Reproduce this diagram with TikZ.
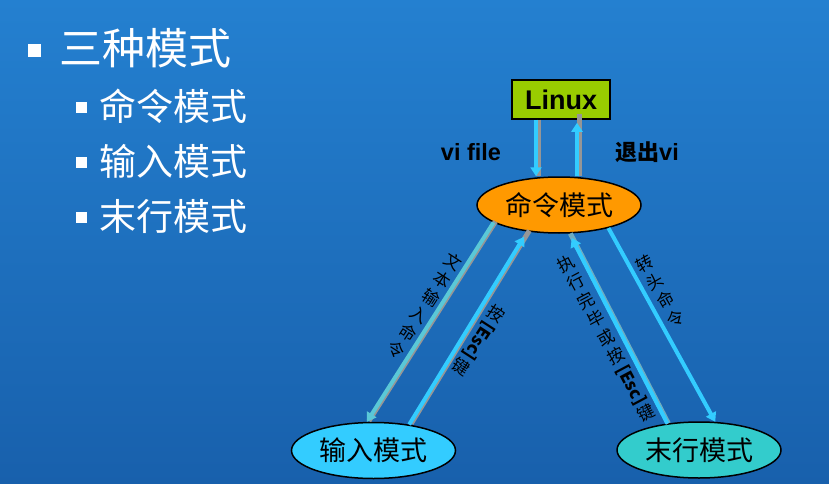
\documentclass[tikz,border=0pt]{standalone}
\usepackage{fontspec}
\usepackage{graphicx}
\setmainfont{Liberation Sans}
\newfontfamily\cjk{Noto Sans CJK SC}
\usetikzlibrary{shapes.geometric,arrows.meta,calc}
\definecolor{bgtop}{RGB}{36,128,208}
\definecolor{bgbot}{RGB}{24,96,172}
\definecolor{linuxgreen}{RGB}{153,204,0}
\definecolor{cmdorange}{RGB}{255,153,0}
\definecolor{inpcyan}{RGB}{51,204,255}
\definecolor{lastteal}{RGB}{51,204,204}
\definecolor{arrcyan}{RGB}{51,204,255}
\definecolor{arrteal}{RGB}{90,200,215}
\definecolor{shadowgray}{RGB}{150,150,150}
\tikzset{
  modebox/.style={ellipse,draw=black,line width=1.5pt,minimum width=164pt,minimum height=56pt,inner sep=0pt,font=\cjk\fontsize{27}{27}\selectfont},
  linuxbox/.style={rectangle,draw=black,line width=1.5pt,fill=linuxgreen,minimum width=98pt,minimum height=39pt,inner sep=0pt,font=\bfseries\fontsize{27}{27}\selectfont},
  shade line/.style={draw=shadowgray,line width=5pt},
  flow/.style={draw=arrcyan,line width=4pt,-{Triangle[width=11pt,length=9pt]}},
  vlabel/.style={align=center,inner sep=0pt,font=\cjk\fontsize{17}{21}\selectfont},
  toplabel/.style={inner sep=0pt,font=\bfseries\fontsize{23.5}{24}\selectfont},
  bigitem/.style={anchor=west,inner sep=0pt,text=white,font=\cjk\fontsize{43}{43}\selectfont},
  subitem/.style={anchor=west,inner sep=0pt,text=white,font=\cjk\fontsize{37}{37}\selectfont},
  bulletsq/.style={fill=white,inner sep=0pt,minimum size=#1}
}
\newcommand{\escbox}{\rotatebox[origin=c]{-90}{\bfseries\fontsize{17}{17}\selectfont[Esc]}}
\begin{document}
\begin{tikzpicture}[x=1pt,y=-1pt]
\useasboundingbox (0,0) rectangle (829,484);
\shade[top color=bgtop,bottom color=bgbot] (0,0) rectangle (829,484);
% bullets
\node[bulletsq=13pt] (b0) at (34,51) {};
\node[bigitem] (t0) at (59,48) {三种模式};
\node[bulletsq=11pt] (b1) at (81,108) {};
\node[subitem] (t1) at (99,106) {命令模式};
\node[bulletsq=11pt] (b2) at (81,162) {};
\node[subitem] (t2) at (99,161) {输入模式};
\node[bulletsq=11pt] (b3) at (81,217) {};
\node[subitem] (t3) at (99,216) {末行模式};
% nodes
\node[linuxbox] (linux) at (561,99.5) {Linux};
\node[modebox,fill=cmdorange] (cmd) at (559,205) {命令模式};
\node[modebox,fill=inpcyan] (inp) at (373.5,450.5) {输入模式};
\node[modebox,fill=lastteal] (last) at (699,450) {末行模式};
% Linux <-> cmd
\coordinate (d0) at ([xshift=-25pt]linux.south);
\coordinate (u0) at ([xshift=16pt]linux.south);
\draw[shade line] ([xshift=2pt]d0) -- ([xshift=2pt]d0 |- cmd.north);
\draw[flow] (d0) -- (d0 |- cmd.north);
\draw[shade line] ([xshift=2pt]u0 |- cmd.north) -- ([xshift=2pt,yshift=6pt]u0);
\draw[flow,shorten >=3pt] (u0 |- cmd.north) -- (u0);
% cmd -> inp
\draw[shade line] ([xshift=2pt,yshift=1pt]cmd.195) -- ([xshift=2pt,yshift=1pt]inp.103);
\draw[flow,draw=arrteal] (cmd.195) -- (inp.103);
% inp -> cmd
\draw[shade line] ([xshift=2pt,yshift=1pt]inp.36) -- ([xshift=2pt,yshift=1pt]cmd.220);
\draw[flow,shorten >=6pt] (inp.36) -- (cmd.220);
% last -> cmd
\draw[shade line,draw=shadowgray!60!arrcyan] ([xshift=1pt]last.140) -- ([xshift=1pt]cmd.-70);
\draw[flow,shorten >=5pt] (last.140) -- (cmd.-70);
% cmd -> last
\draw[flow] (cmd.-25) -- (last.60);
% labels
\node[toplabel] (lvi) at (471,152) {vi file};
\node[toplabel] (lexit) at (647,152) {{\cjk\fontsize{22}{22}\selectfont 退出}vi};
\node[vlabel,rotate=-33] (l1) at (425,306) {文\\本\\输\\入\\命\\令};
\node[vlabel,rotate=-33] (l2) at (479,340) {按\\[3pt]\escbox\\[1pt]键};
\node[vlabel,rotate=28] (l3) at (606,338) {执\\行\\完\\毕\\或\\按\\[3pt]\escbox\\[1pt]键};
\node[vlabel,rotate=30] (l4) at (660,291) {转\\头\\命\\令};
\end{tikzpicture}
\end{document}
